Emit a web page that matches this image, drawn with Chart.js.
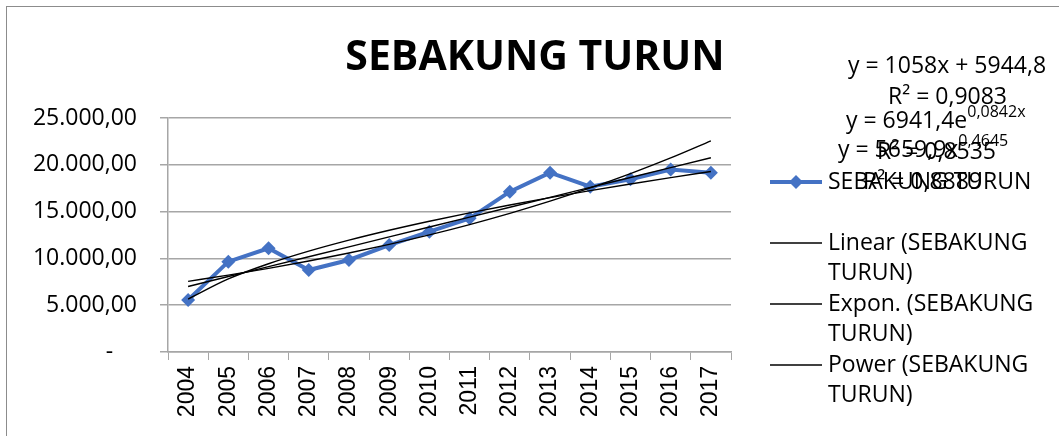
<!DOCTYPE html>
<html>
<head>
<meta charset="utf-8">
<script src="https://cdn.jsdelivr.net/npm/chart.js@4.4.1/dist/chart.umd.min.js"></script>
<style>
  html, body { margin: 0; padding: 0; background: #fff; }
</style>
</head>
<body>
<canvas id="myChart" width="1059" height="436"></canvas>
<script>
// data
const years = ['2004', '2005', '2006', '2007', '2008', '2009', '2010',
               '2011', '2012', '2013', '2014', '2015', '2016', '2017'];
const sebakungTurun = [5560, 9650, 11080, 8760, 9830, 11430, 12850,
                       14280, 17130, 19160, 17660, 18450, 19500, 19160];
const yTicks = [0, 5000, 10000, 15000, 20000, 25000];

// trendline coefficients as printed on the chart
const linearCoef = [1058, 5944.8];    // y = a*x + b
const exponCoef = [6941.4, 0.0842];   // y = a*e^(b*x)
const powerCoef = [5659.9, 0.4645];   // y = a*x^b

const seriesName = 'SEBAKUNG TURUN';
const blue = '#4472C4';

const xs = years.map((y, i) => i + 1);
const linearTrend = xs.map(x => linearCoef[0] * x + linearCoef[1]);
const exponTrend = xs.map(x => exponCoef[0] * Math.exp(exponCoef[1] * x));
const powerTrend = xs.map(x => powerCoef[0] * Math.pow(x, powerCoef[1]));

function fmt(v) {
  if (v === 0) return '-    ';
  const s = Math.round(v).toString().replace(/\B(?=(\d{3})+(?!\d))/g, '.');
  return s + ',00';
}

const labelFont = '23px "Open Sans"';

// equation labels: segments, sup = superscript
const equations = [
  { x: 848, y: 66, parts: [{ t: 'y = 1058x + 5944,8' }] },
  { x: 888, y: 97, parts: [{ t: 'R² = 0,9083' }] },
  { x: 846, y: 121, parts: [{ t: 'y = 6941,4e' }, { t: '0,0842x', sup: true }] },
  { x: 877, y: 152, parts: [{ t: 'R² = 0,8535' }] },
  { x: 838, y: 150, parts: [{ t: 'y = 5659,9x' }, { t: '0,4645', sup: true }] },
  { x: 863, y: 182, parts: [{ t: 'R² = 0,8889' }] }
];

function wrap(ctx, text, maxW) {
  const words = text.split(' ');
  const lines = [];
  let cur = '';
  words.forEach(w => {
    const test = cur ? cur + ' ' + w : w;
    if (ctx.measureText(test).width > maxW && cur) {
      lines.push(cur);
      cur = w;
    } else {
      cur = test;
    }
  });
  lines.push(cur);
  return lines;
}

const decorPlugin = {
  id: 'decor',
  afterDraw(chart) {
    const ctx = chart.ctx;
    ctx.save();
    // outer border
    ctx.strokeStyle = '#8c8c8c';
    ctx.lineWidth = 1;
    ctx.strokeRect(6.5, 6.5, 2000, 2000);

    // title
    ctx.fillStyle = '#000';
    ctx.font = 'bold 41px "Open Sans"';
    ctx.textAlign = 'center';
    ctx.textBaseline = 'middle';
    ctx.fillText(seriesName, 535, 58);

    // trendline equations
    ctx.textAlign = 'left';
    equations.forEach(eq => {
      let x = eq.x;
      eq.parts.forEach(p => {
        ctx.font = p.sup ? '16px "Open Sans"' : labelFont;
        ctx.fillText(p.t, x, p.sup ? eq.y - 9 : eq.y);
        x += ctx.measureText(p.t).width;
      });
    });

    // legend
    const lineH = 30.5;
    let y = 182;
    ctx.font = labelFont;
    chart.data.datasets.forEach(ds => {
      const lines = wrap(ctx, ds.label, 222);
      ctx.strokeStyle = ds.borderColor;
      ctx.lineWidth = ds.borderWidth;
      ctx.beginPath();
      ctx.moveTo(770, y);
      ctx.lineTo(822, y);
      ctx.stroke();
      if (ds.pointRadius > 0) {
        ctx.fillStyle = ds.backgroundColor;
        ctx.beginPath();
        const r = ds.pointRadius;
        ctx.moveTo(796, y - r);
        ctx.lineTo(796 + r, y);
        ctx.lineTo(796, y + r);
        ctx.lineTo(796 - r, y);
        ctx.closePath();
        ctx.fill();
      }
      ctx.fillStyle = '#000';
      lines.forEach((l, k) => ctx.fillText(l, 828, y + k * lineH));
      y += Math.max(lines.length, 2) * lineH;
    });
    ctx.restore();
  }
};

const gridColor = '#a6a6a6';

new Chart(document.getElementById('myChart').getContext('2d'), {
  type: 'line',
  data: {
    labels: years,
    datasets: [
      {
        label: seriesName,
        data: sebakungTurun,
        borderColor: blue,
        backgroundColor: blue,
        borderWidth: 4,
        pointStyle: 'rectRot',
        pointRadius: 7,
        pointBorderWidth: 0,
        tension: 0,
        order: 1
      },
      {
        label: 'Linear (' + seriesName + ')',
        data: linearTrend,
        borderColor: '#000',
        backgroundColor: '#000',
        borderWidth: 1.4,
        pointRadius: 0,
        order: 0
      },
      {
        label: 'Expon. (' + seriesName + ')',
        data: exponTrend,
        borderColor: '#000',
        backgroundColor: '#000',
        borderWidth: 1.4,
        pointRadius: 0,
        cubicInterpolationMode: 'monotone',
        order: 0
      },
      {
        label: 'Power (' + seriesName + ')',
        data: powerTrend,
        borderColor: '#000',
        backgroundColor: '#000',
        borderWidth: 1.4,
        pointRadius: 0,
        cubicInterpolationMode: 'monotone',
        order: 0
      }
    ]
  },
  options: {
    responsive: false,
    animation: false,
    devicePixelRatio: 1,
    layout: { padding: { top: 118, right: 328, left: 0, bottom: 0 } },
    plugins: {
      legend: { display: false },
      title: { display: false },
      tooltip: { enabled: false }
    },
    scales: {
      x: {
        offset: true,
        grid: {
          offset: true,
          drawOnChartArea: false,
          color: gridColor,
          tickLength: 8
        },
        border: { color: gridColor, width: 1.5 },
        ticks: {
          maxRotation: 90,
          minRotation: 90,
          padding: 6,
          color: '#000',
          font: { family: '"Liberation Sans"', size: 23 }
        },
        afterFit(scale) { scale.height = 84; }
      },
      y: {
        min: 0,
        max: 25000,
        afterBuildTicks(scale) { scale.ticks = yTicks.map(v => ({ value: v })); },
        grid: { color: gridColor, lineWidth: 1.5, tickLength: 8 },
        border: { color: gridColor, width: 1.5 },
        ticks: {
          padding: 23,
          color: '#000',
          font: { family: '"Open Sans"', size: 23 },
          callback: v => fmt(v)
        },
        afterFit(scale) { scale.width = 168; }
      }
    }
  },
  plugins: [decorPlugin]
});
</script>
</body>
</html>
